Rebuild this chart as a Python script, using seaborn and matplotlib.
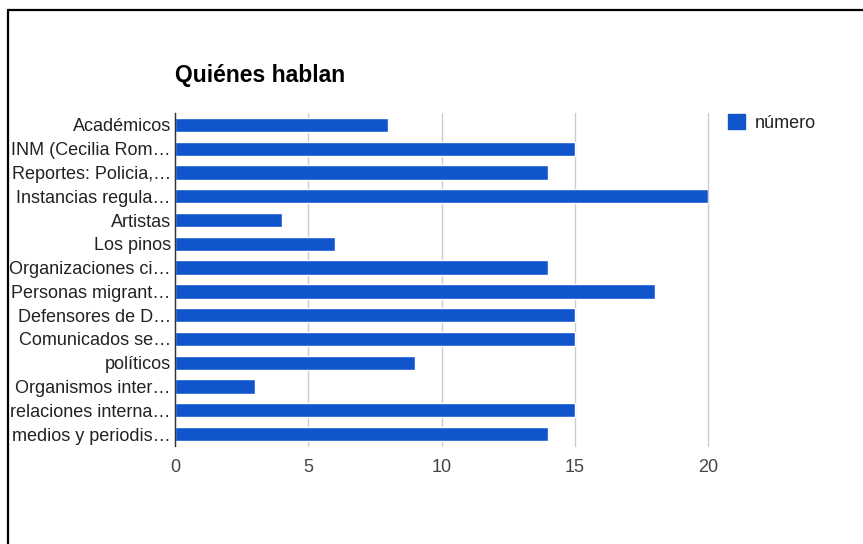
import matplotlib
matplotlib.use("Agg")
import matplotlib.pyplot as plt
from matplotlib.lines import Line2D
from matplotlib.patches import Patch
import pandas as pd
import seaborn as sns

# ── Data ──────────────────────────────────────────────────────────────────────
categories = [
    "Académicos", "INM (Cecilia Rom…", "Reportes: Policia,…",
    "Instancias regula…", "Artistas", "Los pinos", "Organizaciones ci…",
    "Personas migrant…", "Defensores de D…", "Comunicados se…",
    "políticos", "Organismos inter…", "relaciones interna…",
    "medios y periodis…",
]
numero = [8, 15, 14, 20, 4, 6, 14, 18, 15, 15, 9, 3, 15, 14]
x_ticks = [0, 5, 10, 15, 20]

TITLE = "Quiénes hablan"
SERIES = "número"
BLUE = "#1155cc"

df = pd.DataFrame({"cat": categories, "val": numero})

# ── Style ─────────────────────────────────────────────────────────────────────
sns.set_theme(style="white")
plt.rcParams["font.family"] = ["Liberation Sans", "DejaVu Sans"]

W, H = 863, 544
fig = plt.figure(figsize=(W / 100, H / 100), dpi=100)
fig.patch.set_facecolor("white")

ax = fig.add_axes([175 / W, 1 - 446 / H, (708 - 175) / W, (446 - 113) / H])

sns.barplot(data=df, y="cat", x="val", orient="h", color=BLUE,
            width=0.6, saturation=1, ax=ax, zorder=3)

ax.set_xlim(0, 20)
ax.set_xticks(x_ticks)
ax.set_xticklabels([str(t) for t in x_ticks], color="#444444", fontsize=13)
ax.tick_params(axis="x", length=0, pad=9)
ax.tick_params(axis="y", length=0, pad=3, labelsize=13, labelcolor="#222222")
ax.set_xlabel("")
ax.set_ylabel("")
ax.xaxis.grid(True, color="#cccccc", lw=1, zorder=0)
for gl in ax.get_xgridlines():
    gl.set_clip_on(False)
ax.yaxis.grid(False)
for side in ["top", "right", "bottom"]:
    ax.spines[side].set_visible(False)
ax.spines["left"].set_color("#333333")
ax.spines["left"].set_linewidth(1)
ax.spines["left"].set_zorder(5)

# title
fig.text(175 / W, 1 - 75 / H, TITLE, fontsize=16.5, fontweight="bold",
         color="black", ha="left", va="center")

# legend
fig.legend(handles=[Patch(facecolor=BLUE, edgecolor=BLUE)], labels=[SERIES],
           loc="upper left", bbox_to_anchor=(712 / W, 1 - 98 / H),
           frameon=False, fontsize=13, handlelength=0.9, handleheight=0.9,
           handletextpad=0.55, labelcolor="#222222")

# border lines (top + left) of the screenshot frame
fig.add_artist(Line2D([8 / W, 1], [1 - 10 / H, 1 - 10 / H], color="black", lw=1.6,
                      transform=fig.transFigure))
fig.add_artist(Line2D([8 / W, 8 / W], [0, 1 - 10 / H], color="black", lw=1.6,
                      transform=fig.transFigure))

fig.savefig("out.png", dpi=100)
